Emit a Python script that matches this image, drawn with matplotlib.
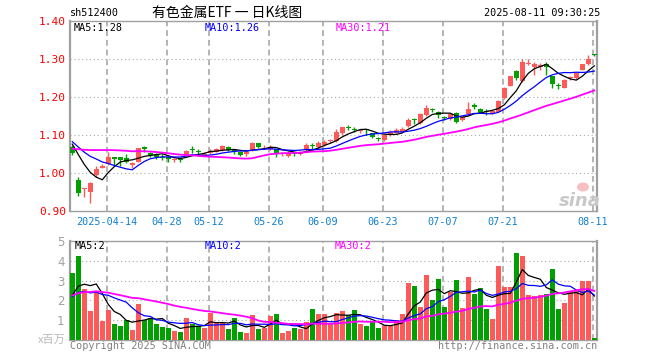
import matplotlib
matplotlib.use("Agg")
import matplotlib.pyplot as plt
from matplotlib.patches import Ellipse
import numpy as np

# ---------------- data ----------------
tick_idx = [6, 16, 23, 33, 42, 52, 62, 72, 87]
tick_labels = ['2025-04-14', '04-28', '05-12', '05-26', '06-09', '06-23', '07-07', '07-21', '08-11']

opens = [1.069, 0.982, 0.958, 0.951, 0.995, 1.014, 1.023, 1.040, 1.041, 1.039,
         1.020, 1.030, 1.069, 1.053, 1.050, 1.041, 1.040, 1.035, 1.036, 1.046,
         1.062, 1.057, 1.048, 1.052, 1.056, 1.060, 1.068, 1.059, 1.056, 1.049,
         1.061, 1.078, 1.064, 1.062, 1.062, 1.051, 1.045, 1.051, 1.050, 1.061,
         1.072, 1.069, 1.074, 1.083, 1.084, 1.104, 1.121, 1.114, 1.110, 1.114,
         1.104, 1.092, 1.087, 1.100, 1.106, 1.109, 1.124, 1.142, 1.131, 1.153,
         1.167, 1.161, 1.146, 1.141, 1.159, 1.139, 1.155, 1.177, 1.168, 1.162,
         1.157, 1.161, 1.197, 1.229, 1.268, 1.242, 1.286, 1.280, 1.278, 1.286,
         1.254, 1.231, 1.225, 1.249, 1.250, 1.272, 1.286, 1.312]
highs = [1.074, 0.989, 0.961, 0.977, 1.019, 1.023, 1.054, 1.043, 1.043, 1.049,
         1.030, 1.066, 1.071, 1.056, 1.053, 1.050, 1.045, 1.040, 1.042, 1.060,
         1.070, 1.062, 1.054, 1.062, 1.066, 1.074, 1.070, 1.062, 1.058, 1.060,
         1.082, 1.080, 1.074, 1.074, 1.064, 1.056, 1.057, 1.056, 1.059, 1.078,
         1.078, 1.084, 1.086, 1.090, 1.116, 1.122, 1.126, 1.122, 1.116, 1.115,
         1.106, 1.096, 1.101, 1.112, 1.118, 1.120, 1.145, 1.144, 1.158, 1.180,
         1.172, 1.163, 1.150, 1.156, 1.161, 1.150, 1.188, 1.184, 1.170, 1.168,
         1.165, 1.193, 1.227, 1.256, 1.272, 1.301, 1.300, 1.292, 1.290, 1.292,
         1.256, 1.238, 1.248, 1.255, 1.264, 1.288, 1.310, 1.313]
lows = [1.047, 0.939, 0.936, 0.922, 0.990, 1.012, 1.021, 1.021, 1.018, 1.026,
        1.012, 1.029, 1.056, 1.041, 1.038, 1.034, 1.030, 1.030, 1.028, 1.044,
        1.052, 1.046, 1.044, 1.050, 1.054, 1.058, 1.058, 1.050, 1.044, 1.046,
        1.059, 1.066, 1.062, 1.060, 1.043, 1.046, 1.041, 1.044, 1.048, 1.059,
        1.064, 1.067, 1.072, 1.080, 1.082, 1.100, 1.114, 1.107, 1.105, 1.100,
        1.091, 1.085, 1.083, 1.098, 1.104, 1.107, 1.120, 1.130, 1.128, 1.150,
        1.160, 1.145, 1.140, 1.139, 1.132, 1.137, 1.153, 1.168, 1.157, 1.152,
        1.155, 1.160, 1.195, 1.228, 1.246, 1.240, 1.284, 1.258, 1.272, 1.258,
        1.223, 1.222, 1.224, 1.246, 1.248, 1.270, 1.284, 1.308]
closes = [1.052, 0.948, 0.960, 0.975, 1.010, 1.018, 1.043, 1.038, 1.035, 1.030,
          1.027, 1.065, 1.062, 1.047, 1.041, 1.039, 1.038, 1.037, 1.034, 1.058,
          1.060, 1.055, 1.051, 1.059, 1.063, 1.071, 1.060, 1.057, 1.047, 1.056,
          1.080, 1.069, 1.066, 1.068, 1.052, 1.053, 1.053, 1.049, 1.056, 1.074,
          1.070, 1.080, 1.082, 1.085, 1.108, 1.120, 1.119, 1.112, 1.113, 1.112,
          1.096, 1.090, 1.100, 1.109, 1.113, 1.115, 1.139, 1.140, 1.155, 1.171,
          1.165, 1.153, 1.144, 1.154, 1.135, 1.148, 1.168, 1.175, 1.159, 1.160,
          1.163, 1.190, 1.225, 1.254, 1.250, 1.292, 1.290, 1.286, 1.284, 1.278,
          1.235, 1.229, 1.246, 1.250, 1.262, 1.286, 1.301, 1.311]
# volume, millions
volumes = [3.37, 4.25, 2.58, 1.45, 2.50, 0.95, 1.50, 0.80, 0.70, 1.00,
           0.50, 1.80, 1.03, 1.13, 0.80, 0.67, 0.60, 0.45, 0.40, 1.10,
           0.83, 0.70, 0.60, 1.37, 0.87, 0.87, 0.57, 1.10, 0.40, 0.35,
           1.25, 0.57, 0.63, 1.20, 1.33, 0.35, 0.45, 0.60, 0.57, 0.90,
           1.55, 1.30, 1.30, 0.87, 1.38, 1.45, 1.25, 1.50, 0.80, 0.70,
           0.92, 0.60, 0.70, 0.70, 1.00, 1.30, 2.90, 2.73, 1.65, 3.30,
           2.00, 3.10, 1.65, 2.40, 3.05, 1.60, 3.20, 2.30, 2.65, 1.55,
           1.05, 3.75, 2.70, 2.70, 4.40, 4.25, 2.25, 2.20, 2.25, 2.30,
           3.60, 1.55, 1.85, 2.50, 2.50, 3.00, 3.00, 0.10]
# estimated sessions before the visible window (feed the moving averages)
pre_closes = [0.990, 1.000, 0.995, 1.010, 1.020, 1.040, 1.050, 1.055, 1.060, 1.065,
              1.055, 1.070, 1.069, 1.080, 1.085, 1.090, 1.095, 1.085, 1.090, 1.086,
              1.090, 1.095, 1.085, 1.080, 1.095, 1.085, 1.090, 1.080, 1.073]
pre_volumes = [0.90, 0.85, 1.20, 1.50, 2.20, 2.40, 2.80, 2.50, 3.00, 2.60,
               2.20, 2.70, 2.90, 2.40, 2.60, 2.50, 2.80, 2.30, 2.55, 2.60,
               2.30, 2.00, 2.20, 2.10, 2.15, 1.90, 2.10, 1.80, 2.08]
ma_price_labels = ['MA5:1.28', 'MA10:1.26', 'MA30:1.21']
ma_vol_labels = ['MA5:2', 'MA10:2', 'MA30:2']
price_ticks = [0.90, 1.00, 1.10, 1.20, 1.30, 1.40]
vol_ticks = [1, 2, 3, 4, 5]

# ---------------- helpers ----------------
W, H = 660, 360
RED = '#ff5a5a'
GREEN = '#00a000'
GRID = '#aaaaaa'
MONO = 'DejaVu Sans Mono'
CJK = ['Noto Sans CJK SC', 'DejaVu Sans']


def rect(l, t, r, b):
    return [l / W, 1 - b / H, (r - l) / W, (b - t) / H]


def ftext(x, y, s, **kw):
    fig.text(x / W, 1 - y / H, s, **kw)


def moving_avg(pre, vals, n):
    allv = np.array(list(pre) + list(vals), dtype=float)
    k = len(pre)
    return np.array([allv[k + i - n + 1:k + i + 1].mean() for i in range(len(vals))])


n = len(closes)
x = np.arange(n)
colors = [RED if c >= o else GREEN for o, c in zip(opens, closes)]

fig = plt.figure(figsize=(W / 100, H / 100), dpi=100)
fig.patch.set_facecolor('white')
ax = fig.add_axes(rect(70, 21, 597, 211))
axv = fig.add_axes(rect(70, 241, 597, 340))

xlim = (-0.38, 87.45)
grid_x = [t - 0.28 for t in tick_idx]

# ---------------- price panel ----------------
for yv in price_ticks[1:-1]:
    ax.axhline(yv, color=GRID, lw=0.8, ls=(0, (1, 2.5)), zorder=1)
for gx in grid_x:
    ax.axvline(gx, color='#b4b4b4', lw=1.4, ls=(0, (3, 2)), zorder=1)

ax.vlines(x, lows, highs, colors=colors, lw=1.0, zorder=3)
body_b = np.minimum(opens, closes)
body_h = np.maximum(np.abs(np.array(closes) - np.array(opens)), 0.0028)
ax.bar(x, body_h, bottom=body_b, width=0.8, color=colors, lw=0, zorder=3)

ma5 = moving_avg(pre_closes, closes, 5)
ma10 = moving_avg(pre_closes, closes, 10)
ma30 = moving_avg(pre_closes, closes, 30)
ax.plot(x, ma5, color='black', lw=0.9, zorder=4)
ax.plot(x, ma10, color='#0000ff', lw=0.9, zorder=4)
ax.plot(x, ma30, color='#ff00ff', lw=1.3, zorder=4)

ax.set_xlim(*xlim)
ax.set_ylim(0.90, 1.40)
ax.set_yticks(price_ticks)
ax.set_yticklabels(['%.2f' % v for v in price_ticks], color='#ff0000',
                   fontsize=8, family=MONO)
ax.set_xticks(grid_x)
ax.set_xticklabels(tick_labels, color='#1080d0', fontsize=7.3, family=MONO)
ax.tick_params(length=0, pad=3)
ax.tick_params(axis='x', pad=4)

# ---------------- volume panel ----------------
for yv in vol_ticks[:-1]:
    axv.axhline(yv, color=GRID, lw=0.8, ls=(0, (1, 2.5)), zorder=1)
for gx in grid_x:
    axv.axvline(gx, color='#b4b4b4', lw=1.4, ls=(0, (3, 2)), zorder=1)

axv.bar(x, volumes, width=0.85, color=colors, lw=0, zorder=3)
vma5 = moving_avg(pre_volumes, volumes, 5)
vma10 = moving_avg(pre_volumes, volumes, 10)
vma30 = moving_avg(pre_volumes, volumes, 30)
axv.plot(x, vma5, color='black', lw=0.9, zorder=4)
axv.plot(x, vma10, color='#0000ff', lw=0.9, zorder=4)
axv.plot(x, vma30, color='#ff00ff', lw=1.3, zorder=4)
axv.set_xlim(*xlim)
axv.set_ylim(0, 5)
axv.set_yticks(vol_ticks)
axv.set_yticklabels([str(v) for v in vol_ticks], color='#a0a0a0', fontsize=8.5)
axv.set_xticks([])
axv.tick_params(length=0, pad=4)

for a in (ax, axv):
    for side, sp in a.spines.items():
        sp.set_color('#a0a0a0')
        sp.set_linewidth(1.0)
    a.spines['left'].set_linewidth(1.6)
    a.spines['right'].set_linewidth(1.6)
    a.set_facecolor('white')

# ---------------- texts ----------------
ftext(70, 13, 'sh512400', fontsize=7.3, family=MONO, va='center', ha='left')
ftext(152, 13, '有色金属ETF 一 日K线图', fontsize=10, family=CJK, va='center', ha='left')
ftext(600, 13, '2025-08-11 09:30:25', fontsize=7.3, family=MONO, va='center', ha='right')

for xx, s, c in zip([74, 205, 336], ma_price_labels, ['black', '#0000ff', '#ff00ff']):
    ftext(xx, 28, s, fontsize=7.3, family=MONO, color=c, va='center', ha='left')
for xx, s, c in zip([75, 205, 335], ma_vol_labels, ['black', '#0000ff', '#ff00ff']):
    ftext(xx, 246, s, fontsize=7.3, family=MONO, color=c, va='center', ha='left')

ftext(66, 340, 'x百万', fontsize=8, family=CJK, color='#b8b8b8', va='center', ha='right')
ftext(70, 346, 'Copyright 2025 SINA.COM', fontsize=7.3, family=MONO, color='#808080',
      va='center', ha='left')
ftext(597, 346, 'http://finance.sina.com.cn', fontsize=7.3, family=MONO, color='#808080',
      va='center', ha='right')

# watermark (sina logo)
ftext(580, 201, 'sina', fontsize=13, weight='bold', style='italic', color='#c8c8c8',
      va='center', ha='center')
fig.patches.append(Ellipse((583 / W, 1 - 187 / H), 12 / W, 9 / H,
                           transform=fig.transFigure, facecolor='#f6c0c0',
                           edgecolor='none', zorder=0))

fig.savefig('out.png', dpi=100)
